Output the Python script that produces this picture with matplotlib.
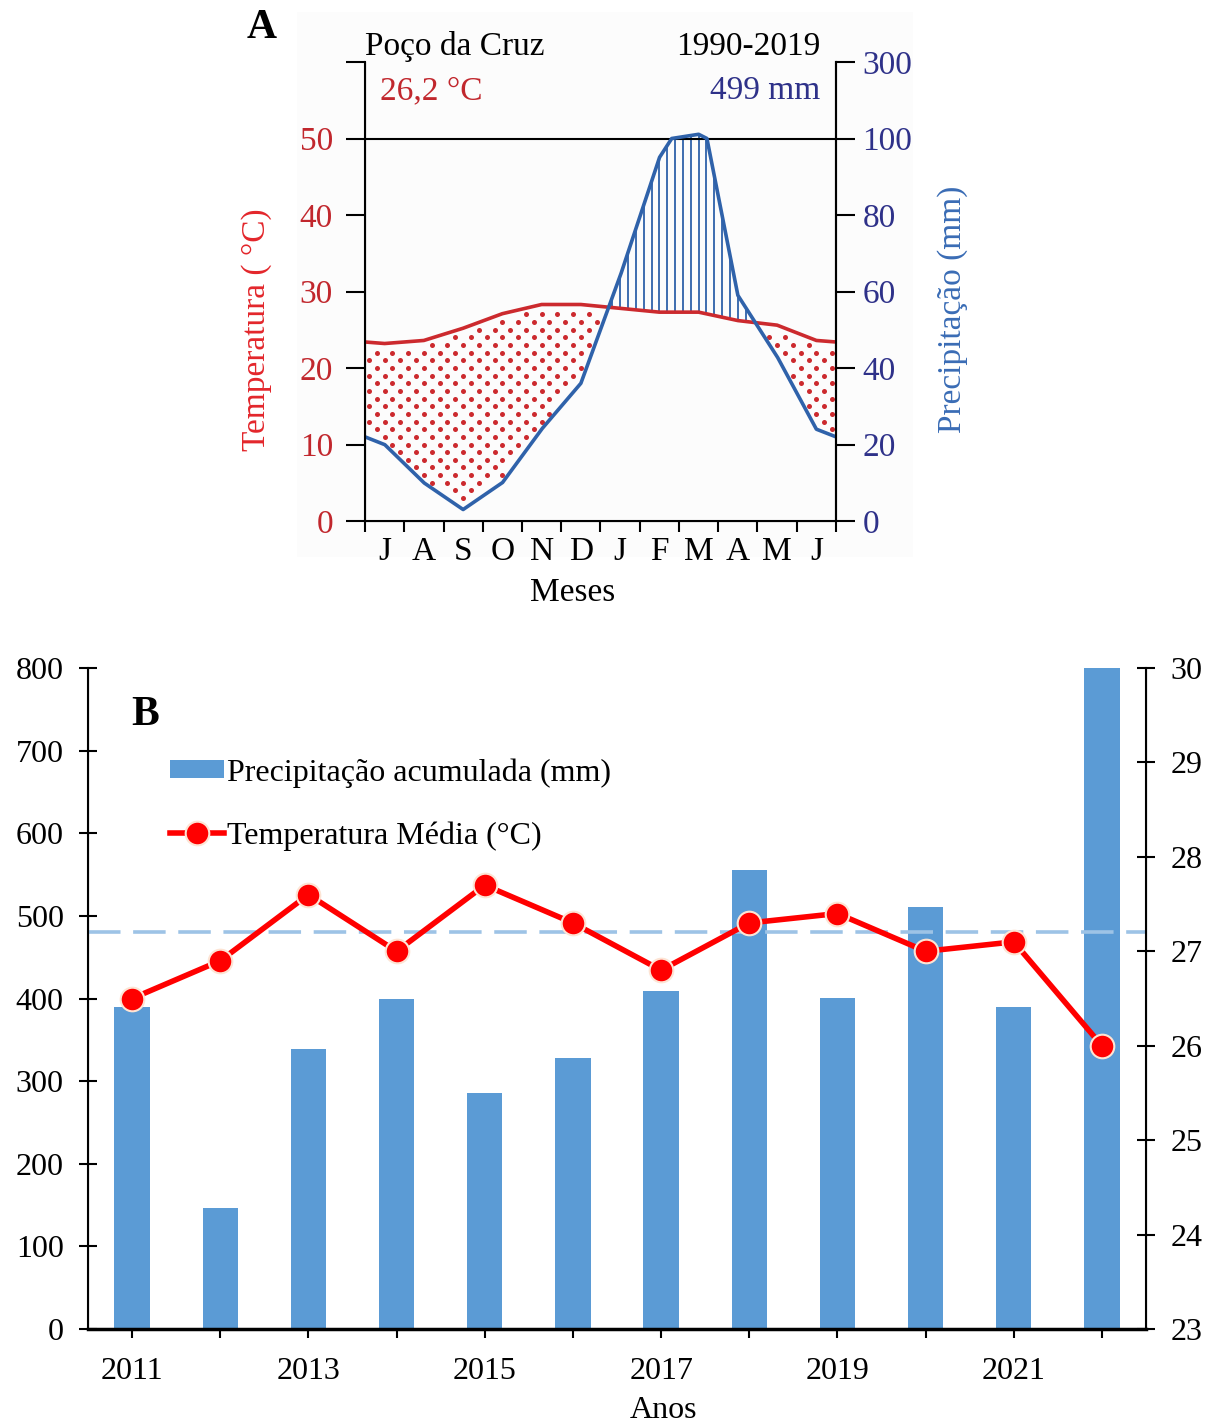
import numpy as np
import matplotlib
matplotlib.use("Agg")
import matplotlib.pyplot as plt
from matplotlib.patches import PathPatch, Rectangle
from matplotlib.path import Path

plt.rcParams['font.family'] = ['Liberation Serif', 'DejaVu Serif']

# Painel A: diagrama climático de Poço da Cruz (1990-2019)
meses = ['J', 'A', 'S', 'O', 'N', 'D', 'J', 'F', 'M', 'A', 'M', 'J']
temp_mensal = [23.2, 23.6, 25.2, 27.1, 28.3, 28.3, 27.8, 27.3, 27.3, 26.2, 25.6, 23.6]
prec_mensal = [20, 10, 3, 10, 24, 36, 64, 95, 111, 59, 43, 24]
temp_ticks = [0, 10, 20, 30, 40, 50, 60]
temp_tick_labels = ['0', '10', '20', '30', '40', '50', '']
prec_tick_labels = ['0', '20', '40', '60', '80', '100', '300']

# Painel B: série anual 2011-2022
anos = [2011, 2012, 2013, 2014, 2015, 2016, 2017, 2018, 2019, 2020, 2021, 2022]
prec_anual = [390, 147, 339, 400, 286, 328, 409, 556, 401, 511, 390, 800]
temp_anual = [26.5, 26.9, 27.6, 27.0, 27.7, 27.3, 26.8, 27.3, 27.4, 27.0, 27.1, 26.0]
prec_media = 480

RED_TXT = '#c1272d'
RED_LINE = '#cc2a2e'
NAVY = '#2e3189'
BLUE_LINE = '#2f62aa'

W, H = 1220, 1425
fig = plt.figure(figsize=(W / 100, H / 100), dpi=100)


def fx(px):
    return px / W


def fy(py):
    return 1 - py / H


def prec_to_axis(p):
    """Escala Walter-Lieth: 2 mm = 1 °C até 100 mm, depois 20 mm = 1 °C."""
    p = np.asarray(p, dtype=float)
    return np.where(p <= 100, p / 2.0, 50 + (p - 100) / 20.0)


# leve fundo do painel A
fig.patches.append(Rectangle((fx(297), fy(557)), fx(913 - 297), (557 - 12) / H,
                             transform=fig.transFigure, facecolor='#fcfcfc',
                             edgecolor='none', zorder=-5))

ax = fig.add_axes([fx(365), fy(521), fx(836 - 365), (521 - 62) / H])
ax.patch.set_visible(False)

xm = np.arange(12) + 0.5
t_borda = (temp_mensal[0] + temp_mensal[-1]) / 2
p_borda = (prec_mensal[0] + prec_mensal[-1]) / 2
x_ext = np.concatenate([[0], xm, [12]])
t_ext = np.concatenate([[t_borda], temp_mensal, [t_borda]])
p_ext = np.concatenate([[p_borda], prec_mensal, [p_borda]])

xf = np.linspace(0, 12, 2401)
tf = np.interp(xf, x_ext, t_ext)
pf = prec_to_axis(np.interp(xf, x_ext, p_ext))

# período úmido: linhas verticais entre as curvas
umido = ax.fill_between(xf, tf, pf, where=pf >= tf, interpolate=True,
                        facecolor='none', edgecolor='none')
path_umido = Path.make_compound_path(*umido.get_paths())
clip_umido = PathPatch(path_umido, transform=ax.transData,
                       facecolor='none', edgecolor='none')
ax.add_patch(clip_umido)
vl = ax.vlines(np.arange(0.1, 12, 0.2), 0, 60, color=BLUE_LINE, lw=1.3, zorder=2)
vl.set_clip_path(clip_umido)

# período seco: pontilhado vermelho
pts_x, pts_y = [], []
for k, xc in enumerate(np.arange(0.1, 12, 0.2)):
    t_c = np.interp(xc, xf, tf)
    p_c = np.interp(xc, xf, pf)
    ys = np.arange(1 if k % 2 == 0 else 0, 60, 2.0)
    sel = (ys < t_c - 0.7) & (ys > p_c + 0.7)
    pts_x.extend([xc] * sel.sum())
    pts_y.extend(ys[sel])
ax.scatter(pts_x, pts_y, s=13, color=RED_LINE, linewidths=0, zorder=2)

ax.plot(x_ext, t_ext, color=RED_LINE, lw=2.6, zorder=4, solid_capstyle='butt')
ax.plot(xf, pf, color=BLUE_LINE, lw=2.6, zorder=5)
ax.axhline(50, color='black', lw=1.5, zorder=3)

ax.set_xlim(0, 12)
ax.set_ylim(0, 60)
ax.spines['top'].set_visible(False)
for s in ['left', 'right', 'bottom']:
    ax.spines[s].set_linewidth(1.5)
ax.set_xticks(range(13))
ax.set_xticklabels([])
ax.set_xticks(xm, minor=True)
ax.set_xticklabels(meses, minor=True, fontsize=24)
ax.tick_params(axis='x', which='major', direction='out', length=8, width=1.5)
ax.tick_params(axis='x', which='minor', length=0, pad=11)
ax.set_yticks(temp_ticks)
ax.set_yticklabels(temp_tick_labels, fontsize=24, color=RED_TXT)
ax.tick_params(axis='y', direction='out', length=14, width=1.5, pad=9)

ax_r = ax.twinx()
ax_r.set_ylim(0, 60)
ax_r.set_yticks(temp_ticks)
ax_r.set_yticklabels(prec_tick_labels, fontsize=24, color=NAVY)
ax_r.tick_params(axis='y', direction='out', length=14, width=1.5, pad=5)
ax_r.spines['top'].set_visible(False)
ax_r.spines['right'].set_linewidth(1.5)

fig.text(fx(365), fy(47), 'Poço da Cruz', fontsize=24, ha='left', va='center')
fig.text(fx(820), fy(47), '1990-2019', fontsize=24, ha='right', va='center')
fig.text(fx(380), fy(91), '26,2 °C', fontsize=24, ha='left', va='center', color=RED_TXT)
fig.text(fx(820), fy(91), '499 mm', fontsize=24, ha='right', va='center', color=NAVY)
fig.text(fx(262), fy(28), 'A', fontsize=30, fontweight='bold', ha='center', va='center')
fig.text(fx(257), fy(330), 'Temperatura ( °C)', fontsize=24, rotation=90,
         ha='center', va='center', color='#e3262b')
fig.text(fx(953), fy(309), 'Precipitação (mm)', fontsize=24, rotation=90,
         ha='center', va='center', color='#3a6cb5')
fig.text(fx(573), fy(593), 'Meses', fontsize=24, ha='center', va='center')

# Painel B
ax2 = fig.add_axes([fx(88), fy(1329), fx(1146 - 88), (1329 - 668) / H])
barras = ax2.bar(anos, prec_anual, width=0.4, color='#5b9bd5', zorder=2)
ax2.axhline(prec_media, color='#9dc3e6', lw=2.6, dashes=(9, 3.5), zorder=3)
ax2.set_xlim(2010.5, 2022.5)
ax2.set_ylim(0, 800)
ax2.set_yticks(range(0, 801, 100))
ax2.set_xticks(anos)
ax2.set_xticklabels([str(a) if a % 2 == 1 else '' for a in anos])
ax2.tick_params(axis='both', labelsize=23, direction='inout', length=13, width=1.5)
ax2.tick_params(axis='x', pad=14)
ax2.tick_params(axis='y', pad=11)
ax2.spines['top'].set_visible(False)
ax2.spines['left'].set_linewidth(1.5)
ax2.spines['bottom'].set_linewidth(2.5)

ax2r = ax2.twinx()
linha, = ax2r.plot(anos, temp_anual, color='#ff0000', lw=4, marker='o', ms=17,
                   mfc='#ff0000', mec='#fde4d4', mew=1.5, zorder=4)
ax2r.set_ylim(23, 30)
ax2r.set_yticks(range(23, 31))
ax2r.tick_params(axis='y', labelsize=23, direction='inout', length=13, width=1.5, pad=11)
ax2r.spines['top'].set_visible(False)
ax2r.spines['right'].set_linewidth(1.5)

ax2.legend([barras, linha], ['Precipitação acumulada (mm)', 'Temperatura Média (°C)'],
           loc='upper left', bbox_to_anchor=(fx(170), fy(758)),
           bbox_transform=fig.transFigure, frameon=False, fontsize=23,
           handlelength=1.7, handleheight=0.5, handletextpad=0.1,
           labelspacing=1.05, borderpad=0, borderaxespad=0)

fig.text(fx(145), fy(715), 'B', fontsize=30, fontweight='bold', ha='center', va='center')
fig.text(fx(663), fy(1410), 'Anos', fontsize=23, ha='center', va='center')

fig.savefig('out.png', dpi=100)
